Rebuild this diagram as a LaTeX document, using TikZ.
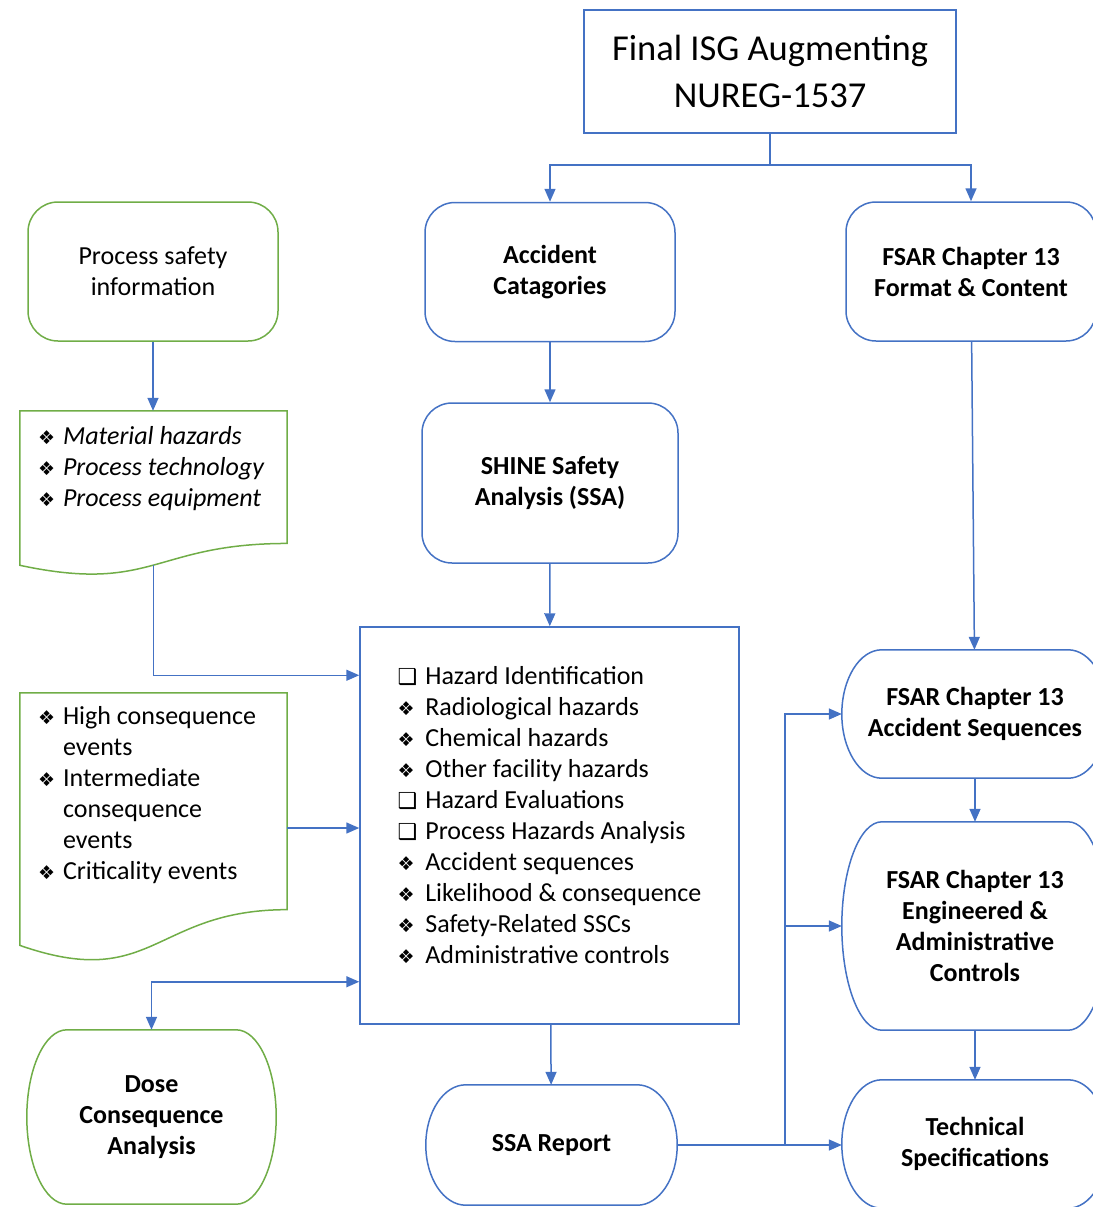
\documentclass[tikz,border=0pt]{standalone}
\usepackage{fontspec}
\setmainfont{Carlito}
\newfontfamily\dingfont{DejaVu Sans}
\usetikzlibrary{arrows.meta,calc}
\definecolor{officeblue}{RGB}{68,114,196}
\definecolor{officegreen}{RGB}{112,173,71}

\newcommand{\txt}{\fontsize{26}{31}\selectfont}
\newcommand{\dia}{{\dingfont\fontsize{19}{19}\selectfont ❖}}
\newcommand{\sqbox}{{\dingfont\fontsize{22}{22}\selectfont ❑}}

% document outline round an empty node
\newcommand{\docshape}[1]{%
  \draw[officegreen, line width=1.5pt] (#1.north west) -- (#1.north east)
    -- ($(#1.north east)!0.802!(#1.south east)$)
    .. controls ($(#1.north)!0.802!(#1.south)$) and ($(#1.north)!1.107!(#1.south)$)
    .. ($(#1.north west)!0.934!(#1.south west)$) -- cycle;
  \coordinate (#1-b) at ($(#1.north)!0.933!(#1.south)$);}

% terminator outline round a node
\newcommand{\termshape}[2]{%
  \draw[#2, line width=1.5pt] let \p1=($(#1.north)-(#1.south)$) in
    ([xshift=40pt]#1.north west) -- ([xshift=-40pt]#1.north east)
    arc[start angle=90, end angle=-90, x radius=40pt, y radius=0.5*\y1]
    -- ([xshift=40pt]#1.south west)
    arc[start angle=270, end angle=90, x radius=40pt, y radius=0.5*\y1] -- cycle;}

\begin{document}
\begin{tikzpicture}[x=1pt, y=-1pt, >={Triangle[length=13pt,width=11pt]},
    line/.style={draw=officeblue, line width=1.5pt},
    arrow/.style={line, ->},
    roundbox/.style={line, rounded corners=30pt, minimum width=250pt, minimum height=139pt, align=center, font=\txt\bfseries},
    termbox/.style={minimum width=266pt, minimum height=128pt, align=center, font=\txt\bfseries},
    docbox/.style={minimum width=267pt, inner sep=0pt}]
    \useasboundingbox (0,0) rectangle (1092,1207);

    % Top
    \node [line, minimum width=372pt, minimum height=123pt, align=center, font=\fontsize{36.5}{47}\selectfont] (title) at (770,71.5) {Final ISG Augmenting\\NUREG-1537};

    % Middle column
    \node [roundbox] (acccat) at (550,272) {Accident\\Catagories};
    \node [roundbox, minimum width=256pt, minimum height=160pt] (shine) at (550,483) {SHINE Safety\\Analysis (SSA)};
    \node [line, minimum width=379pt, minimum height=397pt, font=\txt] (hazbox) at (549.5,825.5) {%
        \raisebox{0pt}[\height][\dimexpr\depth+16pt]{%
        \begin{tabular}{@{}l@{\hspace{8pt}}l@{}}
        \sqbox & Hazard Identification\\
        \dia & Radiological hazards\\
        \dia & Chemical hazards\\
        \dia & Other facility hazards\\
        \sqbox & Hazard Evaluations\\
        \sqbox & Process Hazards Analysis\\
        \dia & Accident sequences\\
        \dia & Likelihood \& consequence\\
        \dia & Safety-Related SSCs\\
        \dia & Administrative controls
        \end{tabular}}};
    \node [termbox, minimum width=251pt, minimum height=120pt] (ssarep) at (551.5,1145) {SSA Report};
    \termshape{ssarep}{officeblue}

    % Left column
    \node [roundbox, draw=officegreen, font=\txt] (psinfo) at (153,271.5) {Process safety\\information};
    \node [docbox, minimum height=165pt] (psidoc) at (153.5,493.5) {};
    \docshape{psidoc}
    \node [anchor=north west, inner sep=0pt, font=\txt\itshape] (psitxt) at ([xshift=18pt,yshift=-12pt]psidoc.north west) {%
        \begin{tabular}{@{}l@{\hspace{8pt}}l@{}}
        \dia & Material hazards\\
        \dia & Process technology\\
        \dia & Process equipment
        \end{tabular}};
    \node [docbox, minimum height=270pt] (evdoc) at (153.5,828) {};
    \docshape{evdoc}
    \node [anchor=north west, inner sep=0pt, font=\txt] (evtxt) at ([xshift=18pt,yshift=-10pt]evdoc.north west) {%
        \begin{tabular}{@{}l@{\hspace{8pt}}l@{}}
        \dia & High consequence\\
             & events\\
        \dia & Intermediate\\
             & consequence\\
             & events\\
        \dia & Criticality events
        \end{tabular}};
    \node [termbox, minimum width=249pt, minimum height=174pt] (dose) at (151.5,1117) {Dose\\Consequence\\Analysis};
    \termshape{dose}{officegreen}

    % Right column
    \node [roundbox] (fsarfmt) at (971,271.5) {FSAR Chapter 13\\Format \& Content};
    \node [termbox] (accseq) at (975,714) {FSAR Chapter 13\\Accident Sequences};
    \termshape{accseq}{officeblue}
    \node [termbox, minimum height=208pt] (engctrl) at (975,926) {FSAR Chapter 13\\Engineered \&\\Administrative\\Controls};
    \termshape{engctrl}{officeblue}
    \node [termbox] (techspec) at (975,1144) {Technical\\Specifications};
    \termshape{techspec}{officeblue}

    % Arrows
    \coordinate (split) at (770,165);
    \coordinate (bus) at (785,1145);
    \draw [line] (title.south) -- (split);
    \draw [arrow] (split) -| (acccat.north);
    \draw [arrow] (split) -| (fsarfmt.north);
    \draw [arrow] (acccat) -- (shine);
    \draw [arrow] (shine) -- (hazbox);
    \draw [arrow] (hazbox) -- (ssarep);
    \draw [arrow] (psinfo.south) -- (psinfo.south |- psidoc.north);
    \draw [arrow] (psidoc-b) |- ([yshift=-49pt]hazbox.north west);
    \draw [arrow] (evdoc.east) -- (evdoc.east -| hazbox.west);
    \draw [arrow, <->] (dose.north) |- ([yshift=43pt]hazbox.south west);
    \draw [arrow] (fsarfmt) -- (accseq);
    \draw [arrow] (accseq) -- (engctrl);
    \draw [arrow] (engctrl) -- (techspec);
    \draw [arrow] (ssarep.east) -- (ssarep.east -| techspec.west);
    \draw [arrow] (bus) |- (accseq.west);
    \draw [arrow] (bus |- engctrl.west) -- (engctrl.west);
\end{tikzpicture}
\end{document}
